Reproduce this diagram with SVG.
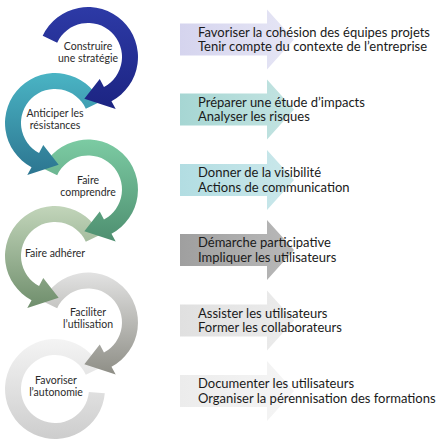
<svg xmlns="http://www.w3.org/2000/svg" width="441" height="443" viewBox="0 0 441 443">
<defs>
<linearGradient id="g1" x1="0" y1="0" x2="0" y2="1"><stop offset="0" stop-color="#2d3aa6"/><stop offset="1" stop-color="#1c2482"/></linearGradient>
<linearGradient id="g2" x1="0" y1="0" x2="0" y2="1"><stop offset="0" stop-color="#4ab4c4"/><stop offset="1" stop-color="#2c7590"/></linearGradient>
<linearGradient id="g3" x1="0" y1="0" x2="0" y2="1"><stop offset="0" stop-color="#7ccba3"/><stop offset="1" stop-color="#4e8f70"/></linearGradient>
<linearGradient id="g4" x1="0" y1="0" x2="0" y2="1"><stop offset="0" stop-color="#c2d5ba"/><stop offset="1" stop-color="#6f8e6c"/></linearGradient>
<linearGradient id="g5" x1="0" y1="0" x2="0" y2="1"><stop offset="0" stop-color="#e2e2e2"/><stop offset="1" stop-color="#8e8e86"/></linearGradient>
<linearGradient id="g6" x1="0" y1="0" x2="0" y2="1"><stop offset="0" stop-color="#f4f4f4"/><stop offset="1" stop-color="#cdcdcd"/></linearGradient>
<linearGradient id="a1" x1="0" y1="0" x2="1" y2="0"><stop offset="0" stop-color="#d5d4ee"/><stop offset="1" stop-color="#e6e6f5"/></linearGradient>
<linearGradient id="a2" x1="0" y1="0" x2="1" y2="0"><stop offset="0" stop-color="#a6d6d3"/><stop offset="1" stop-color="#c4e4e2"/></linearGradient>
<linearGradient id="a3" x1="0" y1="0" x2="1" y2="0"><stop offset="0" stop-color="#b2dde2"/><stop offset="1" stop-color="#cbe8eb"/></linearGradient>
<linearGradient id="a4" x1="0" y1="0" x2="1" y2="0"><stop offset="0" stop-color="#9f9f9f"/><stop offset="1" stop-color="#b9b9b9"/></linearGradient>
<linearGradient id="a5" x1="0" y1="0" x2="1" y2="0"><stop offset="0" stop-color="#e0e0e0"/><stop offset="1" stop-color="#ececec"/></linearGradient>
<linearGradient id="a6" x1="0" y1="0" x2="1" y2="0"><stop offset="0" stop-color="#ececec"/><stop offset="1" stop-color="#f5f5f5"/></linearGradient>
<path id="arcR" d="M -45.32 -21.13 A 50 50 0 1 1 23.48 44.15 L 27.70 52.09 L -3.66 41.84 L 11.74 22.07 L 15.96 30.02 A 34 34 0 1 0 -30.81 -14.37 Z"/>
<path id="ring" d="M -45.32 -21.13 A 50 50 0 1 1 -49.81 4.36 L -33.87 2.96 A 34 34 0 1 0 -30.81 -14.37 Z"/>
<path id="blk" d="M 180 -16 H 267 V -30 L 294 0 L 267 30 V 16 H 180 Z"/>
</defs>
<style>
.lt{font-family:Lato,"Liberation Sans",sans-serif;font-size:10.5px;fill:#2b2b2b;text-anchor:middle}
.rt{font-family:Lato,"Liberation Sans",sans-serif;font-size:13px;fill:#1a1a1a}
</style>
<rect width="441" height="443" fill="#ffffff"/>
<g id="step6">
<use href="#ring" transform="translate(55 389) scale(-1 1)" fill="url(#g6)"/>
<text class="lt" x="56" y="383.5">Favoriser</text>
<text class="lt" x="56" y="395.5">l’autonomie</text>
</g>
<g id="step5">
<use href="#arcR" transform="translate(88 322.5)" fill="url(#g5)"/>
<text class="lt" x="88" y="316">Faciliter</text>
<text class="lt" x="88" y="328">l’utilisation</text>
</g>
<g id="step4">
<use href="#arcR" transform="translate(55 256) scale(-1 1)" fill="url(#g4)"/>
<text class="lt" x="55" y="256.5">Faire adhérer</text>
</g>
<g id="step3">
<use href="#arcR" transform="translate(88 189.5)" fill="url(#g3)"/>
<text class="lt" x="88" y="183.5">Faire</text>
<text class="lt" x="88" y="195.5">comprendre</text>
</g>
<g id="step2">
<use href="#arcR" transform="translate(55 123) scale(-1 1)" fill="url(#g2)"/>
<text class="lt" x="55" y="116.5">Anticiper les</text>
<text class="lt" x="55" y="128.5">résistances</text>
</g>
<g id="step1">
<use href="#arcR" transform="translate(88 57)" fill="url(#g1)"/>
<text class="lt" x="88" y="50">Construire</text>
<text class="lt" x="88" y="62">une stratégie</text>
</g>
<g id="action1">
<use href="#blk" transform="translate(0 39.5)" fill="url(#a1)"/>
<text class="rt" x="198" y="36.5">Favoriser la cohésion des équipes projets</text>
<text class="rt" x="198" y="51">Tenir compte du contexte de l’entreprise</text>
</g>
<g id="action2">
<use href="#blk" transform="translate(0 109.5)" fill="url(#a2)"/>
<text class="rt" x="198" y="106.5">Préparer une étude d’impacts</text>
<text class="rt" x="198" y="121">Analyser les risques</text>
</g>
<g id="action3">
<use href="#blk" transform="translate(0 180)" fill="url(#a3)"/>
<text class="rt" x="198" y="177">Donner de la visibilité</text>
<text class="rt" x="198" y="191.5">Actions de communication</text>
</g>
<g id="action4">
<use href="#blk" transform="translate(0 250)" fill="url(#a4)"/>
<text class="rt" x="198" y="247">Démarche participative</text>
<text class="rt" x="198" y="261.5">Impliquer les utilisateurs</text>
</g>
<g id="action5">
<use href="#blk" transform="translate(0 320.5)" fill="url(#a5)"/>
<text class="rt" x="198" y="317.5">Assister les utilisateurs</text>
<text class="rt" x="198" y="332">Former les collaborateurs</text>
</g>
<g id="action6">
<use href="#blk" transform="translate(0 391)" fill="url(#a6)"/>
<text class="rt" x="198" y="388">Documenter les utilisateurs</text>
<text class="rt" x="198" y="402.5">Organiser la pérennisation des formations</text>
</g>
</svg>
